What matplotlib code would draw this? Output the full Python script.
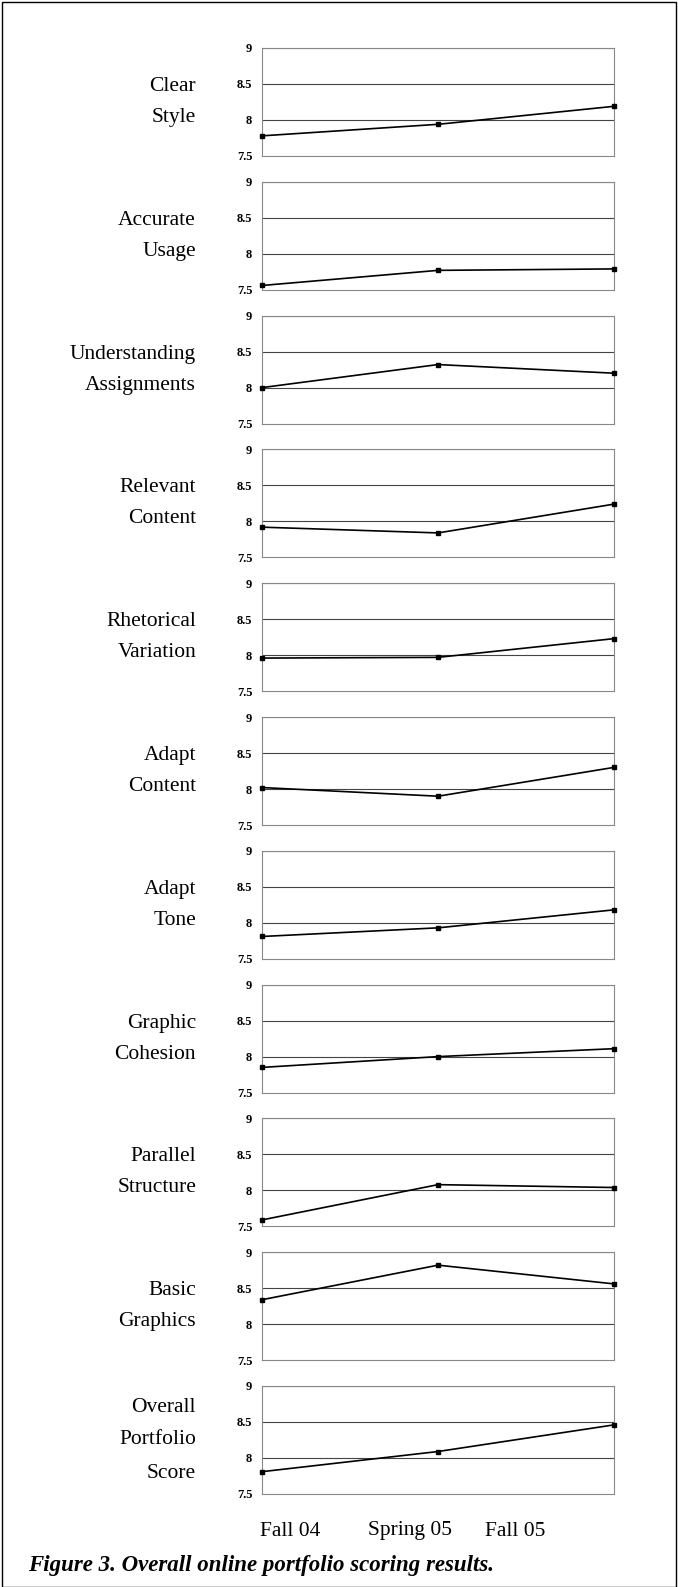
import matplotlib.pyplot as plt
from matplotlib.patches import Rectangle

labels = [
    "Clear\nStyle",
    "Accurate\nUsage",
    "Understanding\nAssignments",
    "Relevant\nContent",
    "Rhetorical\nVariation",
    "Adapt\nContent",
    "Adapt\nTone",
    "Graphic\nCohesion",
    "Parallel\nStructure",
    "Basic\nGraphics",
    "Overall\nPortfolio\nScore",
]
semesters = ["Fall 04", "Spring 05", "Fall 05"]

clear_style = [7.78, 7.94, 8.19]
accurate_usage = [7.56, 7.77, 7.79]
understanding = [8.00, 8.32, 8.20]
relevant_content = [7.92, 7.84, 8.24]
rhetorical = [7.96, 7.97, 8.23]
adapt_content = [8.02, 7.90, 8.30]
adapt_tone = [7.81, 7.93, 8.18]
graphic_cohesion = [7.85, 8.00, 8.11]
parallel_structure = [7.59, 8.08, 8.04]
basic_graphics = [8.34, 8.82, 8.56]
overall = [7.81, 8.09, 8.46]

series = [clear_style, accurate_usage, understanding, relevant_content,
          rhetorical, adapt_content, adapt_tone, graphic_cohesion,
          parallel_structure, basic_graphics, overall]

W, H = 678, 1587
fig = plt.figure(figsize=(W / 100, H / 100), dpi=100)
fig.patches.append(Rectangle((0.003, 0.0), 0.994, 0.9985, transform=fig.transFigure,
                             fill=False, edgecolor="black", linewidth=1.0))

serif = "Liberation Serif"
left, right = 262, 614
panel_h = 108
step = 133.8

for i, (lab, vals) in enumerate(zip(labels, series)):
    top = 48 + i * step
    ax = fig.add_axes([left / W, 1 - (top + panel_h) / H,
                       (right - left) / W, panel_h / H])
    ax.set_xlim(0, 2)
    ax.set_ylim(7.5, 9)
    ax.set_yticks([7.5, 8, 8.5, 9])
    ax.set_yticklabels(["7.5", "8", "8.5", "9"], fontfamily=serif,
                       fontweight="bold", fontsize=9)
    ax.set_xticks([])
    ax.tick_params(axis="y", length=0, pad=7)
    for y in [8, 8.5, 9]:
        ax.axhline(y, color="#444444", linewidth=0.8, zorder=1)
    for s in ax.spines.values():
        s.set_color("#888888")
        s.set_linewidth(0.8)
    ax.plot([0, 1, 2], vals, color="black", linewidth=1.2, marker="s",
            markersize=3.5, clip_on=False, zorder=3)
    lines = lab.split("\n")
    n = len(lines)
    yc = top + panel_h / 2
    gap = 31 if n == 2 else 33
    for k, ln in enumerate(lines):
        yy = yc + (k - (n - 1) / 2) * gap
        fig.text(196 / W, 1 - yy / H, ln, ha="right", va="center",
                 fontfamily=serif, fontsize=15.5)

for name, xp in zip(semesters, [290, 410, 515]):
    fig.text(xp / W, 1 - 1531 / H, name, ha="center", va="center",
             fontfamily=serif, fontsize=15.5)

fig.text(28 / W, 1 - 1566 / H, "Figure 3. Overall online portfolio scoring results.",
         ha="left", va="center", fontfamily=serif, fontsize=16.5,
         fontweight="bold", fontstyle="italic")

fig.savefig("out.png", dpi=100)
